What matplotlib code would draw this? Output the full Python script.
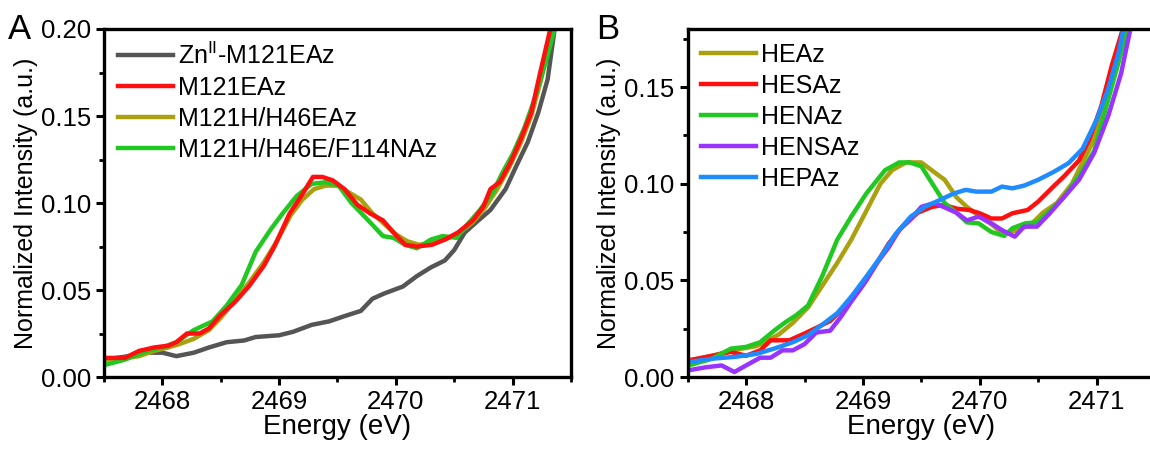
import matplotlib.pyplot as plt
from matplotlib.ticker import MultipleLocator, FormatStrFormatter

plt.rcParams["font.family"] = ["Liberation Sans", "DejaVu Sans"]

# ---- panel A data (energy in eV, normalized intensity) ----
zn_e = [2467.51, 2467.71, 2467.87, 2468.0, 2468.12, 2468.27, 2468.4, 2468.55, 2468.7, 2468.8,
        2469.0, 2469.12, 2469.28, 2469.43, 2469.56, 2469.7, 2469.8, 2469.9, 2470.06, 2470.18,
        2470.3, 2470.42, 2470.5, 2470.59, 2470.69, 2470.81, 2470.94, 2471.03, 2471.13, 2471.22,
        2471.3, 2471.36]
zn_y = [0.010, 0.012, 0.014, 0.014, 0.012, 0.014, 0.017, 0.020, 0.021, 0.023,
        0.024, 0.026, 0.030, 0.032, 0.035, 0.038, 0.045, 0.048, 0.052, 0.058,
        0.063, 0.067, 0.073, 0.083, 0.089, 0.096, 0.108, 0.121, 0.135, 0.152,
        0.171, 0.200]

m121e_e = [2467.51, 2467.68, 2467.8, 2467.93, 2468.05, 2468.12, 2468.21, 2468.32, 2468.4, 2468.49,
           2468.62, 2468.74, 2468.87, 2468.96, 2469.09, 2469.18, 2469.29, 2469.37, 2469.46, 2469.56,
           2469.67, 2469.78, 2469.89, 2469.98, 2470.08, 2470.18, 2470.31, 2470.42, 2470.53, 2470.66,
           2470.75, 2470.81, 2470.89, 2470.98, 2471.06, 2471.16, 2471.23, 2471.33]
m121e_y = [0.011, 0.011, 0.015, 0.017, 0.018, 0.020, 0.025, 0.025, 0.028, 0.035,
           0.043, 0.052, 0.064, 0.075, 0.094, 0.103, 0.115, 0.115, 0.113, 0.108,
           0.099, 0.094, 0.090, 0.083, 0.076, 0.075, 0.076, 0.079, 0.083, 0.090,
           0.098, 0.108, 0.112, 0.123, 0.135, 0.152, 0.173, 0.202]

m121h_e = [2467.51, 2467.68, 2467.8, 2467.93, 2468.05, 2468.15, 2468.27, 2468.4, 2468.5,
           2468.62, 2468.74, 2468.87, 2468.98, 2469.1, 2469.2, 2469.3, 2469.4, 2469.5, 2469.6,
           2469.7, 2469.8, 2469.9, 2470.0, 2470.1, 2470.2, 2470.31, 2470.42, 2470.53, 2470.66,
           2470.76, 2470.86, 2470.96, 2471.06, 2471.16, 2471.24, 2471.33]
m121h_y = [0.010, 0.011, 0.012, 0.015, 0.017, 0.019, 0.022, 0.027, 0.034,
           0.044, 0.054, 0.066, 0.078, 0.093, 0.102, 0.108, 0.110, 0.110, 0.106,
           0.102, 0.094, 0.088, 0.082, 0.078, 0.076, 0.077, 0.079, 0.082, 0.089,
           0.097, 0.107, 0.119, 0.133, 0.150, 0.170, 0.198]

m121hf_e = [2467.51, 2467.68, 2467.87, 2468.0, 2468.12, 2468.27, 2468.43, 2468.55, 2468.68, 2468.8,
            2468.93, 2469.03, 2469.15, 2469.28, 2469.4, 2469.51, 2469.62, 2469.75, 2469.89, 2469.98,
            2470.08, 2470.18, 2470.3, 2470.4, 2470.52, 2470.63, 2470.72, 2470.83, 2470.91, 2471.0,
            2471.1, 2471.2, 2471.28, 2471.36]
m121hf_y = [0.007, 0.010, 0.015, 0.017, 0.020, 0.027, 0.032, 0.041, 0.053, 0.072,
            0.085, 0.094, 0.104, 0.111, 0.112, 0.110, 0.100, 0.091, 0.081, 0.080,
            0.076, 0.074, 0.079, 0.081, 0.080, 0.089, 0.096, 0.106, 0.117, 0.128,
            0.143, 0.162, 0.180, 0.200]

# ---- panel B data ----
hea_e = [2467.51, 2467.71, 2467.9, 2468.09, 2468.28, 2468.4, 2468.53, 2468.65, 2468.78, 2468.9,
         2469.03, 2469.15, 2469.25, 2469.37, 2469.5, 2469.61, 2469.7, 2469.8, 2469.89, 2470.0,
         2470.1, 2470.2, 2470.32, 2470.44, 2470.54, 2470.66, 2470.79, 2470.88, 2470.98, 2471.07,
         2471.16, 2471.26]
hea_y = [0.0086, 0.011, 0.014, 0.016, 0.022, 0.028, 0.036, 0.047, 0.059, 0.071,
         0.086, 0.100, 0.107, 0.111, 0.111, 0.106, 0.102, 0.093, 0.088, 0.083,
         0.079, 0.074, 0.076, 0.079, 0.085, 0.090, 0.100, 0.111, 0.123, 0.140,
         0.161, 0.181]

hesa_e = [2467.51, 2467.71, 2467.87, 2468.0, 2468.12, 2468.21, 2468.37, 2468.5, 2468.62, 2468.72,
          2468.84, 2468.97, 2469.1, 2469.22, 2469.34, 2469.47, 2469.59, 2469.69, 2469.81, 2469.91,
          2470.0, 2470.1, 2470.19, 2470.28, 2470.41, 2470.5, 2470.63, 2470.72, 2470.85, 2470.94,
          2471.04, 2471.13, 2471.23]
hesa_y = [0.0086, 0.011, 0.013, 0.011, 0.0138, 0.019, 0.019, 0.0225, 0.026, 0.029,
          0.036, 0.045, 0.057, 0.069, 0.078, 0.085, 0.088, 0.089, 0.087, 0.0864,
          0.0847, 0.082, 0.082, 0.0847, 0.0864, 0.0907, 0.0985, 0.1037, 0.112, 0.123,
          0.140, 0.161, 0.181]

hena_e = [2467.51, 2467.71, 2467.87, 2468.0, 2468.12, 2468.24, 2468.34, 2468.43, 2468.53, 2468.65,
          2468.78, 2468.9, 2469.03, 2469.19, 2469.31, 2469.4, 2469.5, 2469.61, 2469.7, 2469.8,
          2469.89, 2469.99, 2470.1, 2470.21, 2470.28, 2470.39, 2470.49, 2470.6, 2470.72, 2470.85,
          2470.98, 2471.07, 2471.18, 2471.27]
hena_y = [0.006, 0.0095, 0.0147, 0.0156, 0.018, 0.024, 0.0285, 0.032, 0.037, 0.052,
          0.071, 0.083, 0.095, 0.107, 0.111, 0.111, 0.109, 0.0985, 0.090, 0.085,
          0.080, 0.0795, 0.075, 0.073, 0.077, 0.0795, 0.080, 0.086, 0.093, 0.104,
          0.117, 0.137, 0.161, 0.181]

hensa_e = [2467.51, 2467.65, 2467.79, 2467.9, 2468.0, 2468.12, 2468.21, 2468.31, 2468.4, 2468.5,
           2468.6, 2468.72, 2468.81, 2468.9, 2469.03, 2469.12, 2469.22, 2469.31, 2469.4, 2469.5,
           2469.61, 2469.69, 2469.8, 2469.89, 2469.99, 2470.1, 2470.19, 2470.3, 2470.38, 2470.49,
           2470.6, 2470.72, 2470.85, 2470.98, 2471.1, 2471.21, 2471.29]
hensa_y = [0.0035, 0.005, 0.006, 0.0026, 0.006, 0.010, 0.010, 0.0138, 0.0138, 0.017,
           0.023, 0.024, 0.031, 0.039, 0.050, 0.059, 0.067, 0.076, 0.081, 0.088,
           0.090, 0.088, 0.085, 0.081, 0.083, 0.0795, 0.076, 0.0726, 0.0778, 0.0778,
           0.0847, 0.093, 0.102, 0.116, 0.135, 0.157, 0.180]

hepa_e = [2467.51, 2467.71, 2467.9, 2468.09, 2468.24, 2468.4, 2468.53, 2468.65, 2468.78, 2468.9,
          2469.03, 2469.15, 2469.28, 2469.41, 2469.53, 2469.66, 2469.78, 2469.88, 2469.97, 2470.1,
          2470.19, 2470.28, 2470.38, 2470.5, 2470.63, 2470.76, 2470.88, 2471.0, 2471.1, 2471.19,
          2471.23]
hepa_y = [0.0078, 0.0095, 0.0104, 0.012, 0.0147, 0.018, 0.0216, 0.027, 0.033, 0.0415,
          0.052, 0.062, 0.074, 0.083, 0.088, 0.0916, 0.095, 0.0968, 0.0959, 0.0959,
          0.0985, 0.0976, 0.099, 0.102, 0.106, 0.1106, 0.118, 0.133, 0.149, 0.168,
          0.180]

labels_a = ["Zn$^{\\mathregular{II}}$-M121EAz", "M121EAz", "M121H/H46EAz", "M121H/H46E/F114NAz"]
labels_b = ["HEAz", "HESAz", "HENAz", "HENSAz", "HEPAz"]

gray = "#555555"
red = "#ff1010"
olive = "#aaa010"
green = "#22c822"
purple = "#9933ff"
blue = "#1e8cff"

fig = plt.figure(figsize=(11.5, 4.51), dpi=100)
ax1 = fig.add_axes([0.0904, 0.164, 0.4061, 0.7717])
ax2 = fig.add_axes([0.598, 0.164, 0.4063, 0.7717])

lw = 3.2
ax1.plot(zn_e, zn_y, color=gray, lw=lw, label=labels_a[0])
ax1.plot(m121h_e, m121h_y, color=olive, lw=lw, label=labels_a[2])
ax1.plot(m121hf_e, m121hf_y, color=green, lw=lw, label=labels_a[3])
ax1.plot(m121e_e, m121e_y, color=red, lw=lw, label=labels_a[1])

ax2.plot(hea_e, hea_y, color=olive, lw=lw, label=labels_b[0])
ax2.plot(hesa_e, hesa_y, color=red, lw=lw, label=labels_b[1])
ax2.plot(hena_e, hena_y, color=green, lw=lw, label=labels_b[2])
ax2.plot(hensa_e, hensa_y, color=purple, lw=lw, label=labels_b[3])
ax2.plot(hepa_e, hepa_y, color=blue, lw=lw, label=labels_b[4])

for ax, ymax in [(ax1, 0.20), (ax2, 0.18)]:
    ax.set_xlim(2467.5, 2471.5)
    ax.set_ylim(0, ymax)
    ax.xaxis.set_major_locator(MultipleLocator(1))
    ax.xaxis.set_minor_locator(MultipleLocator(0.5))
    ax.yaxis.set_major_locator(MultipleLocator(0.05))
    ax.yaxis.set_minor_locator(MultipleLocator(0.025))
    ax.yaxis.set_major_formatter(FormatStrFormatter("%.2f"))
    ax.xaxis.set_major_formatter(FormatStrFormatter("%d"))
    ax.tick_params(which="major", direction="out", length=6, width=2.2, labelsize=18.5)
    ax.tick_params(which="minor", direction="out", length=3.5, width=2.0)
    for s in ax.spines.values():
        s.set_linewidth(2.4)
    ax.set_xlabel("Energy (eV)", fontsize=20, labelpad=0)
    ax.set_ylabel("Normalized Intensity (a.u.)", fontsize=18, labelpad=2)

h, l = ax1.get_legend_handles_labels()
order = [0, 3, 1, 2]
ax1.legend([h[i] for i in order], [l[i] for i in order], loc="upper left", frameon=False,
           fontsize=18, handlelength=2.2, handletextpad=0.2, labelspacing=0.28,
           borderaxespad=0.15, bbox_to_anchor=(0.0, 1.0))
ax2.legend(loc="upper left", frameon=False, fontsize=18, handlelength=2.2,
           handletextpad=0.2, labelspacing=0.28, borderaxespad=0.15, bbox_to_anchor=(0.0, 1.0))

fig.text(0.007, 0.935, "A", fontsize=25, va="center", ha="left")
fig.text(0.518, 0.935, "B", fontsize=25, va="center", ha="left")

plt.savefig("out.png", dpi=100)
